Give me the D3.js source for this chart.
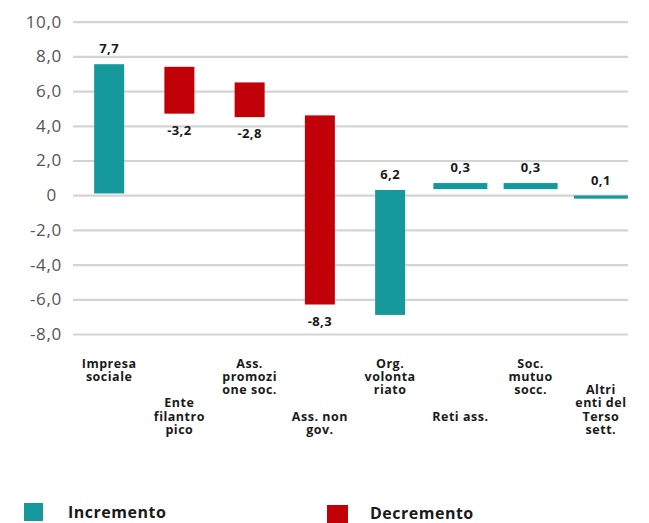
<!DOCTYPE html>
<html>
<head>
<meta charset="utf-8">
<script src="https://cdn.jsdelivr.net/npm/d3@7"></script>
<style>
  body { margin: 0; background: #fff; }
  text { font-family: 'Open Sans', sans-serif; }
</style>
</head>
<body>
<div class="chart"></div>
<script>
'use strict';

// Values
const categories = [
  'Impresa\nsociale',
  'Ente\nfilantro\npico',
  'Ass.\npromozi\none soc.',
  'Ass. non\ngov.',
  'Org.\nvolonta\nriato',
  'Reti ass.',
  'Soc.\nmutuo\nsocc.',
  'Altri\nenti del\nTerso\nsett.'
];
const changes = [7.7, -3.2, -2.8, -8.3, 6.2, 0.3, 0.3, 0.1];
// where each bar starts and ends as drawn in the picture
const barFrom = [0.1, 7.4, 6.5, 4.6, -6.9, 0.35, 0.35, -0.2];
const barTo = [7.55, 4.7, 4.5, -6.3, 0.3, 0.7, 0.7, -0.02];

const yTicks = [10, 8, 6, 4, 2, 0, -2, -4, -6, -8];
const yTickLabels = ['10,0', '8,0', '6,0', '4,0', '2,0', '0\u00a0', '-2,0', '-4,0', '-6,0', '-8,0'];

const legendLabels = ['Incremento', 'Decremento'];

// Setup
const w = 649;
const h = 523;
const teal = '#16999c';
const red = '#c20008';

const svg = d3.select('.chart')
              .append('svg')
              .attr('width', w)
              .attr('height', h);

// Scales
const xScale = d3.scaleBand()
                .domain(d3.range(categories.length))
                .range([74, 636])
                .padding(0);

const yScale = d3.scaleLinear()
                .domain([-8, 10])
                .range([334, 21.7]);

// Y axis + gridlines
const yAxis = d3.axisLeft(yScale)
                .tickValues(yTicks)
                .tickFormat((d, i) => yTickLabels[i])
                .tickSizeInner(-(628 - 73))
                .tickSizeOuter(0)
                .tickPadding(11);

const gy = svg.append('g')
  .attr('transform', 'translate(73, 0)')
  .call(yAxis);

gy.select('.domain').remove();
gy.selectAll('line')
  .attr('stroke', '#d4d4d4')
  .attr('stroke-width', 2.2);
gy.selectAll('text')
  .attr('fill', '#555')
  .style('font-size', '17px')
  .style('letter-spacing', '0.7px');

// Bars
const barWidth = i => Math.abs(changes[i]) < 1 ? 54 : 30;

svg.selectAll('rect.bar')
  .data(changes)
  .enter()
  .append('rect')
  .attr('class', 'bar')
  .attr('x', (d, i) => xScale(i) + xScale.bandwidth() / 2 - barWidth(i) / 2)
  .attr('width', (d, i) => barWidth(i))
  .attr('y', (d, i) => yScale(Math.max(barFrom[i], barTo[i])))
  .attr('height', (d, i) => Math.abs(yScale(barFrom[i]) - yScale(barTo[i])))
  .attr('fill', d => d >= 0 ? teal : red);

// Value labels
svg.selectAll('text.value')
  .data(changes)
  .enter()
  .append('text')
  .attr('class', 'value')
  .attr('x', (d, i) => xScale(i) + xScale.bandwidth() / 2)
  .attr('y', (d, i) => d >= 0
    ? yScale(Math.max(barFrom[i], barTo[i])) - 16
    : yScale(Math.min(barFrom[i], barTo[i])) + 16)
  .attr('text-anchor', 'middle')
  .attr('dominant-baseline', 'central')
  .attr('fill', '#1a1a1a')
  .style('font-size', '13px')
  .style('font-weight', 700)
  .style('letter-spacing', '0.4px')
  .text(d => String(d).replace('.', ','));

// Category labels, staggered on two rows
const lineH = 13.3;
const firstLine = 363;

const cat = svg.selectAll('text.cat')
  .data(categories)
  .enter()
  .append('text')
  .attr('class', 'cat')
  .attr('text-anchor', 'middle')
  .attr('fill', '#1a1a1a')
  .style('font-size', '12.5px')
  .style('font-weight', 700)
  .style('letter-spacing', '0.5px');

cat.each(function(d, i) {
  const lines = d.split('\n');
  const start = i % 2 === 0 ? 0 : Math.min(4, 6 - lines.length);
  const cx = xScale(i) + xScale.bandwidth() / 2;
  d3.select(this).selectAll('tspan')
    .data(lines)
    .enter()
    .append('tspan')
    .attr('x', cx)
    .attr('y', (l, j) => firstLine + (start + j) * lineH)
    .attr('dominant-baseline', 'central')
    .text(l => l);
});

// Legend
const legendPos = [{ x: 24, y: 503, tx: 68, ty: 511.5 }, { x: 327, y: 505, tx: 370, ty: 513 }];
const legendColors = [teal, red];

const lg = svg.selectAll('g.legend')
  .data(legendLabels)
  .enter()
  .append('g')
  .attr('class', 'legend');

lg.append('rect')
  .attr('x', (d, i) => legendPos[i].x)
  .attr('y', (d, i) => legendPos[i].y)
  .attr('width', (d, i) => i === 0 ? 19 : 21)
  .attr('height', 18)
  .attr('fill', (d, i) => legendColors[i]);

lg.append('text')
  .attr('x', (d, i) => legendPos[i].tx)
  .attr('y', (d, i) => legendPos[i].ty)
  .attr('dominant-baseline', 'central')
  .attr('fill', '#1a1a1a')
  .style('font-size', '16px')
  .style('font-weight', 700)
  .style('letter-spacing', '0.5px')
  .text(d => d);
</script>
</body>
</html>
